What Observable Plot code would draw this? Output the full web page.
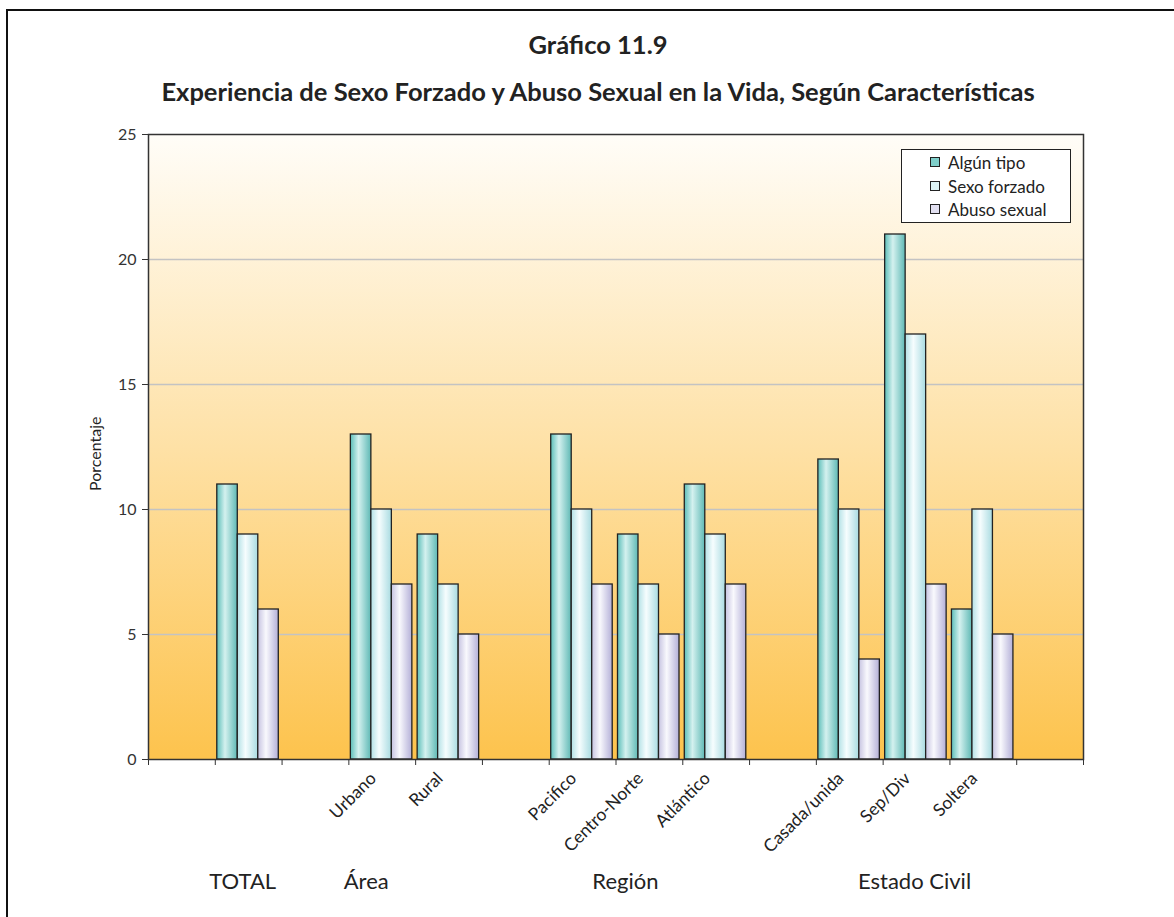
<!DOCTYPE html>
<html>
<head>
<meta charset="utf-8">
<script src="https://cdn.jsdelivr.net/npm/d3@7"></script>
<script src="https://cdn.jsdelivr.net/npm/@observablehq/plot@0.6"></script>
<style>
  html, body { margin: 0; padding: 0; background: #fff; }
  body { width: 1174px; height: 917px; position: relative; overflow: hidden; font-family: Lato, "Open Sans", sans-serif; }
  #frame { position: absolute; left: 6px; top: 9px; width: 1300px; height: 1000px; border-left: 2px solid #111; border-top: 2px solid #111; }
  .title { position: absolute; left: 0; width: 1196px; text-align: center; font-weight: bold; color: #222; font-size: 25.5px; }
  #chart { position: absolute; left: 0; top: 110px; }
  #legend { position: absolute; left: 901px; top: 149px; width: 168px; height: 72px; border: 1.5px solid #222; background: #fff; }
  .item { position: absolute; left: 28px; font-size: 17px; color: #222; line-height: 20px; }
  .sw { display: inline-block; width: 8px; height: 8px; border: 1px solid #222; margin-right: 8px; vertical-align: 2px; }
</style>
</head>
<body>
<div id="frame"></div>
<div class="title" style="top:29px">Gráfico 11.9</div>
<div class="title" style="top:76px">Experiencia de Sexo Forzado y Abuso Sexual en la Vida, Según Características</div>
<div id="chart"></div>
<div id="legend"></div>
<script>
// ---- data ----
const slots = ["", "TOTAL", " ", "Urbano", "Rural", "  ", "Pacifico", "Centro-Norte", "Atlántico", "   ", "Casada/unida", "Sep/Div", "Soltera", "    "];
const labels = ["TOTAL", "Urbano", "Rural", "Pacifico", "Centro-Norte", "Atlántico", "Casada/unida", "Sep/Div", "Soltera"];
const tickLabels = ["Urbano", "Rural", "Pacifico", "Centro-Norte", "Atlántico", "Casada/unida", "Sep/Div", "Soltera"];
const seriesNames = ["Algún tipo", "Sexo forzado", "Abuso sexual"];
const algunTipo   = [11, 13, 9, 13, 9, 11, 12, 21, 6];
const sexoForzado = [9, 10, 7, 10, 7, 9, 10, 17, 10];
const abusoSexual = [6, 7, 5, 7, 5, 7, 4, 7, 5];
const yTicks = [0, 5, 10, 15, 20, 25];
const gridTicks = [5, 10, 15, 20];
const groupLabels = ["TOTAL", "Área", "Región", "Estado Civil"];
const groupAnchors = ["TOTAL", "Urbano", "Centro-Norte", "Sep/Div"];
const yLabel = "Porcentaje";

// ---- layout / style ----
const W = 1174, mL = 148, mR = 91, mT = 24, plotH = 625, mB = 150;
const bw = (W - mL - mR) / slots.length;
const barW = 20.5, off = 2;
const gradIds = ["gTeal", "gCyan", "gLav"];
const swatch = ["#7fcfca", "#dcf3f5", "#e2e0f1"];
const seriesVals = [algunTipo, sexoForzado, abusoSexual];

const table = seriesVals.map(vals => labels.map((c, i) => ({cat: c, v: vals[i]})));

const barMarks = table.map((rows, s) => Plot.barY(rows, {
  x: "cat", y: "v",
  fill: `url(#${gradIds[s]})`,
  stroke: "#222", strokeWidth: 1.3,
  insetLeft: off + s * barW,
  insetRight: bw - (off + (s + 1) * barW)
}));

const groupMarks = groupLabels.map((g, i) => Plot.text([g], {
  x: () => groupAnchors[i], frameAnchor: "bottom",
  dy: 129, dx: [-6, -16, -24, -2][i],
  fontSize: 22, fill: "#222"
}));

const chart = Plot.plot({
  width: W, height: mT + plotH + mB,
  marginLeft: mL, marginRight: mR, marginTop: mT, marginBottom: mB,
  style: {fontFamily: "Lato, 'Open Sans', sans-serif", fontSize: "16px", background: "transparent", color: "#333"},
  x: {domain: slots, padding: 0, round: false},
  y: {domain: [0, 25]},
  marks: [
    Plot.frame({fill: "url(#gBg)", stroke: null}),
    Plot.ruleY(gridTicks, {stroke: "#c3c3c3", strokeWidth: 1.5}),
    ...barMarks,
    Plot.frame({stroke: "#333", strokeWidth: 1.5}),
    Plot.axisY({ticks: yTicks, tickSize: 6, tickPadding: 6, label: null, fontSize: 16, stroke: "#333", fill: "#333"}),
    Plot.axisX({ticks: slots, tickSize: 6, dx: -bw / 2, tickFormat: () => "", label: null, stroke: "#333"}),
    Plot.axisX({ticks: [slots[slots.length - 1]], tickSize: 6, dx: bw / 2, tickFormat: () => "", label: null, stroke: "#333"}),
    Plot.text(tickLabels, {x: d => d, frameAnchor: "bottom", rotate: -45, textAnchor: "end", dx: -5, dy: 20, fontSize: 17.5, fill: "#222"}),
    Plot.text([yLabel], {frameAnchor: "left", rotate: -90, dx: -53, dy: 44, fontSize: 16, fill: "#222"}),
    ...groupMarks
  ]
});

const defs = d3.select(chart).insert("defs", ":first-child");
const bg = defs.append("linearGradient").attr("id", "gBg").attr("x1", 0).attr("y1", 0).attr("x2", 0).attr("y2", 1);
bg.append("stop").attr("offset", 0).attr("stop-color", "#fffdf8");
bg.append("stop").attr("offset", 0.5).attr("stop-color", "#fee1a6");
bg.append("stop").attr("offset", 1).attr("stop-color", "#fdc34d");
const grads = [
  ["#5cbeb9", "#d4f1ef", "#5fb9b5"],
  ["#b3e1e6", "#f6fdfe", "#a9dbe1"],
  ["#c6c3e1", "#f9f9fd", "#b4b0d8"]
];
grads.forEach((c, i) => {
  const g = defs.append("linearGradient").attr("id", gradIds[i]).attr("x1", 0).attr("y1", 0).attr("x2", 1).attr("y2", 0);
  g.append("stop").attr("offset", 0).attr("stop-color", c[0]);
  g.append("stop").attr("offset", 0.4).attr("stop-color", c[1]);
  g.append("stop").attr("offset", 1).attr("stop-color", c[2]);
});
document.getElementById("chart").appendChild(chart);

const legend = document.getElementById("legend");
seriesNames.forEach((n, i) => {
  const d = document.createElement("div");
  d.className = "item";
  d.style.top = (3 + i * 23.5) + "px";
  d.innerHTML = `<span class="sw" style="background:${swatch[i]}"></span>${n}`;
  legend.appendChild(d);
});
</script>
</body>
</html>
